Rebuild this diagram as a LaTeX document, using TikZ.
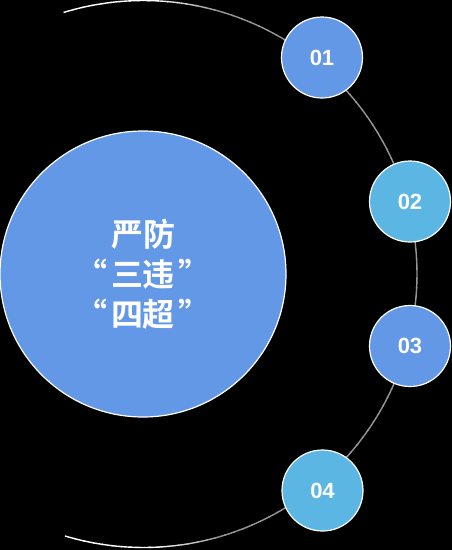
\documentclass[tikz,border=0pt]{standalone}
\usepackage{fontspec}
\newfontfamily\cjk{Noto Sans CJK SC}[BoldFont={Noto Sans CJK SC Bold}]
\newfontfamily\numfont{Liberation Sans}
\definecolor{bblue}{HTML}{6398E6}
\definecolor{lblue}{HTML}{5BB6E3}
\definecolor{arcgray}{HTML}{959595}
\tikzset{
  bignode/.style={circle, fill=bblue, draw=white, line width=1.2pt, minimum size=286pt, inner sep=0pt,
    text=white, font=\cjk\bfseries\fontsize{32}{40}\selectfont, align=center},
  numnode/.style={circle, draw=white, line width=1.2pt, minimum size=81pt, inner sep=0pt,
    text=white, font=\numfont\bfseries\fontsize{22}{26}\selectfont},
}
\begin{document}
\begin{tikzpicture}[x=1pt,y=1pt]
\fill[black] (0,0) rectangle (452,-550);
\useasboundingbox (0,0) rectangle (452,-550);
% decorative arc
\foreach \i in {0,...,106}{
  \pgfmathsetmacro{\a}{-106.7+\i*1.99439}
  \pgfmathsetmacro{\b}{\a+2.29}
  \pgfmathsetmacro{\m}{abs(\a+1)}
  \pgfmathsetmacro{\t}{100*min(max((\m-74)/14,0),1)}
  \draw[color=white!\t!arcgray, line width=1.4pt] (143.5,-274) ++(\a:273.5) arc[start angle=\a, end angle=\b, radius=273.5];
}
\node[bignode] (main) at (143,-274) {严防\\“\hspace{4pt}三违\hspace{4pt}”\\“\hspace{4pt}四超\hspace{4pt}”};
\node[numnode, fill=bblue] (n1) at (322,-57.5) {01};
\node[numnode, fill=lblue] (n2) at (410,-201.5) {02};
\node[numnode, fill=bblue] (n3) at (410,-346) {03};
\node[numnode, fill=lblue] (n4) at (322.5,-490.5) {04};
\end{tikzpicture}
\end{document}
